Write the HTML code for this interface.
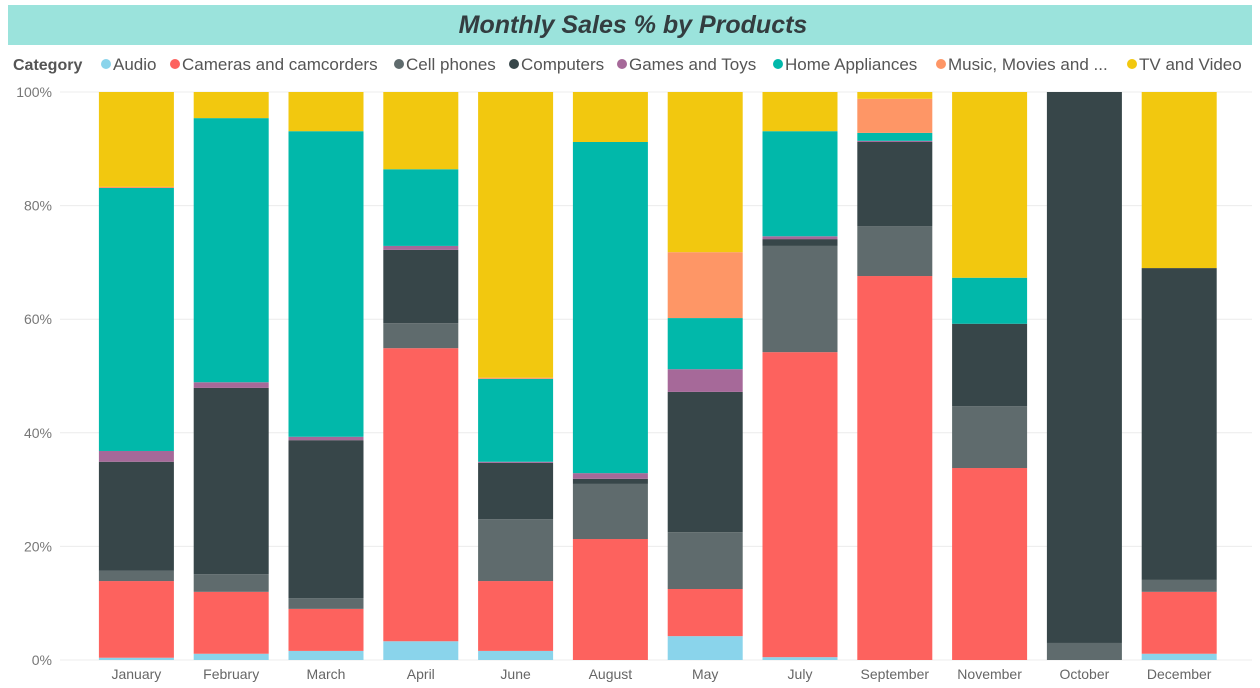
<!DOCTYPE html>
<html><head><meta charset="utf-8"><style>
body{margin:0;background:#fff;width:1260px;height:683px;overflow:hidden;font-family:"Liberation Sans",sans-serif}
</style></head><body>
<svg id="c" width="1260" height="683">
<rect x="8" y="5" width="1244" height="40" fill="#9BE3DC"/>
<text x="633" y="33" text-anchor="middle" font-size="25" font-weight="bold" font-style="italic" fill="#333d40">Monthly Sales % by Products</text>
<g id="legend"></g>
<g id="grid"></g><g id="bars"></g><g id="axes"></g>
</svg>
<script>
const months=["January","February","March","April","June","August","May","July","September","November","October","December"];
const seriesNames=["Audio","Cameras and camcorders","Cell phones","Computers","Games and Toys","Home Appliances","Music, Movies and ...","TV and Video"];
const colors=["#8AD4EB","#FD625E","#5F6B6D","#374649","#A66999","#01B8AA","#FE9666","#F2C80F"];
const audio=[0.4,1.1,1.6,3.3,1.6,0,4.2,0.5,0,0,0,1.1];
const cameras=[13.5,10.9,7.4,51.6,12.3,21.3,8.3,53.7,67.6,33.8,0,10.9];
const cell=[1.8,3.1,1.9,4.4,10.9,9.7,10.0,18.7,8.8,10.9,3.0,2.1];
const computers=[19.2,32.8,27.8,12.9,9.9,0.9,24.7,1.2,14.8,14.5,97.0,54.9];
const games=[1.9,1.0,0.6,0.7,0.2,1.0,4.0,0.5,0.2,0,0,0];
const home=[46.3,46.5,53.8,13.5,14.6,58.3,9.0,18.5,1.4,8.1,0,0];
const music=[0.2,0,0,0,0.2,0,11.6,0,6.0,0,0,0];
const tv=[16.7,4.6,6.9,13.6,50.3,8.8,28.2,6.9,1.2,32.7,0,31.0];
const yTicks=[0,20,40,60,80,100];
const series=[audio,cameras,cell,computers,games,home,music,tv];
const NS="http://www.w3.org/2000/svg";
const y0=660,y1=92,x0=89,step=94.8,bw=75;
const y=v=>y0-(y0-y1)*v/100;
const xc=i=>x0+step*i+step/2;
function mk(t,a,p){const e=document.createElementNS(NS,t);for(const k in a)e.setAttribute(k,a[k]);p.appendChild(e);return e;}
const grid=document.getElementById('grid'),axes=document.getElementById('axes'),bars=document.getElementById('bars'),leg=document.getElementById('legend');
yTicks.forEach(t=>{
 const l=mk('line',{x1:60,x2:1252,y1:y(t),y2:y(t),stroke:'#ececec','stroke-width':1},grid);
 
 
 const tx=mk('text',{x:52,y:y(t)+5,'text-anchor':'end','font-size':14,fill:'#777'},axes);
 tx.textContent=t+'%';
 
 
});
months.forEach((m,i)=>{
 let acc=0;
 series.forEach((s,k)=>{
  const v=s[i]; if(v<=0){return;}
  const total=series.reduce((a,ss)=>a+ss[i],0);
  const a0=acc/total*100,a1=(acc+v)/total*100; acc+=v;
  const r=mk('rect',{x:xc(i)-bw/2,y:y(a1),width:bw,height:y(a0)-y(a1),fill:colors[k]},bars);
  
  
 });
 const tx=mk('text',{x:xc(i),y:679,'text-anchor':'middle','font-size':14,fill:'#666'},axes);
 tx.textContent=m;
 
 
});
const lt=mk('text',{x:13,y:70,'font-size':16,'font-weight':'bold',fill:'#555'},leg);
lt.textContent='Category';


const lx=[102,171,395,510,618,774,937,1128];
seriesNames.forEach((n,k)=>{
 const c=mk('circle',{cx:lx[k]+4,cy:64,r:5,fill:colors[k]},leg);
 
 
 const t=mk('text',{x:lx[k]+11,y:70,'font-size':17,fill:'#555'},leg);
 t.textContent=n;
 
 
});
</script>
</body></html>
